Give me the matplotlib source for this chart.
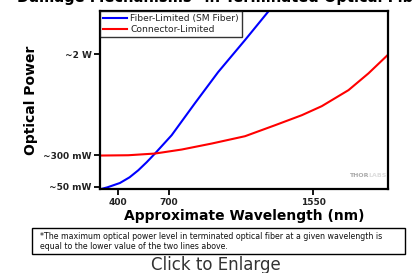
import matplotlib
matplotlib.use("Agg")
import matplotlib.pyplot as plt
from matplotlib.patches import Rectangle

# Data (wavelength in nm, relative power level on an arbitrary linear scale)
fiber_nm = [296, 340, 413, 470, 521, 570, 619, 717, 854, 990, 1148, 1284]
fiber_pw = [0, 2.0, 6.3, 12, 19, 27, 35.7, 54, 86, 117, 149, 177.3]
conn_nm = [296, 462, 619, 776, 953, 1148, 1325, 1482, 1599, 1756, 1873, 2000]
conn_pw = [33.7, 34, 35.7, 39.7, 45.7, 53, 64, 74, 83, 99, 115.7, 136.3]

xticks = [400, 700, 1550]
xtick_labels = ["400", "700", "1550"]
yticks = [2.3, 34, 135]
ytick_labels = ["~50 mW", "~300 mW", "~2 W"]

W, H = 414, 273
fig = plt.figure(figsize=(W / 100, H / 100), dpi=100)
fig.patch.set_facecolor("white")

ax = fig.add_axes([100 / W, 1 - 189.3 / H, 288.5 / W, 178.3 / H])
ax.plot(fiber_nm, fiber_pw, color="#0000ff", lw=1.5, label="Fiber-Limited (SM Fiber)")
ax.plot(conn_nm, conn_pw, color="#ff0000", lw=1.5, label="Connector-Limited")
ax.set_xlim(296, 1991)
ax.set_ylim(0, 178)
ax.set_xticks(xticks)
ax.set_xticklabels(xtick_labels, fontsize=6.5, fontweight="bold", color="#222222")
ax.set_yticks(yticks)
ax.set_yticklabels(ytick_labels, fontsize=6.5, fontweight="bold", color="#222222")
ax.tick_params(direction="out", length=4, width=1.3, pad=2)
for s in ax.spines.values():
    s.set_linewidth(1.6)
    s.set_color("black")

leg = ax.legend(loc="upper left", fontsize=6.6, frameon=True, fancybox=False,
                borderaxespad=0, handlelength=2.6, handletextpad=0.4,
                borderpad=0.3, labelspacing=0.25)
leg.get_frame().set_edgecolor("black")
leg.get_frame().set_linewidth(1.0)
for t in leg.get_texts():
    t.set_color("#222222")

ax.set_ylabel("Optical Power", fontsize=10, fontweight="bold", labelpad=4)
ax.set_xlabel("Approximate Wavelength (nm)", fontsize=10, fontweight="bold", labelpad=2)

# watermark
ax.text(0.93, 0.08, "THOR", transform=ax.transAxes, fontsize=4.5, fontweight="bold",
        color="#aaaaaa", ha="right", va="center")
ax.text(0.93, 0.08, "LABS", transform=ax.transAxes, fontsize=4.5, fontweight="bold",
        color="#dddddd", ha="left", va="center")

# title (cut off at top, as in the reference)
fig.text(17 / W, 1 - 2 / H, "Damage Mechanisms* in Terminated Optical Fibers",
         fontsize=10.5, fontweight="bold", ha="left", va="baseline")

# caption box
fig.patches.append(Rectangle((32 / W, 1 - 254 / H), 373 / W, 26 / H,
                             transform=fig.transFigure, fill=False,
                             edgecolor="black", lw=1.0))
fig.text(40 / W, 1 - 236.5 / H,
         "*The maximum optical power level in terminated optical fiber at a given wavelength is",
         fontsize=5.7, ha="left", va="center", color="#111111")
fig.text(40 / W, 1 - 246.5 / H, "equal to the lower value of the two lines above.",
         fontsize=5.7, ha="left", va="center", color="#111111")

fig.text(216 / W, 1 - 265 / H, "Click to Enlarge", fontsize=12, ha="center",
         va="center", color="#333333")

fig.savefig("out.png", dpi=100)
